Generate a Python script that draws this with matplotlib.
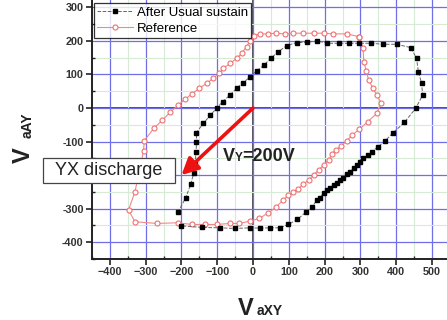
import matplotlib.pyplot as plt
from matplotlib.patches import Rectangle
from matplotlib.ticker import MultipleLocator

# wall voltage loop after usual sustain (V_aXY, V_aAY)
sustain_x = [-210, -188, -174, -166, -162, -159, -158, -158, -139, -120, -101,
             -85, -64, -46, -27, -8, 10, 31, 49, 71, 94, 122, 150, 180, 208,
             239, 267, 296, 329, 364, 402, 441, 457, 462, 471, 474, 455, 423,
             392, 369, 350, 332, 320, 308, 299, 290, 281, 271, 262, 252, 243,
             234, 225, 215, 206, 197, 187, 178, 164, 147, 124, 99, 74, 48, 20,
             -8, -50, -92, -142, -200]
sustain_y = [-311, -267, -227, -195, -165, -130, -101, -73, -46, -22, 0,
             19, 39, 59, 76, 93, 111, 128, 148, 168, 186, 195, 196, 200, 193,
             193, 193, 193, 193, 190, 190, 180, 148, 108, 74, 39, 0, -43,
             -73, -98, -115, -130, -140, -150, -160, -170, -180, -190, -198,
             -208, -215, -223, -230, -237, -245, -253, -267, -275, -296, -311,
             -332, -347, -357, -357, -358, -357, -359, -357, -356, -351]

# reference loop
ref_x = [295, 262, 224, 197, 169, 139, 113, 89, 64, 41, 20, 3, -8, -18, -32,
         -46, -64, -83, -95, -111, -129, -150, -171, -190, -209, -231, -253,
         -278, -304, -306, -330, -348, -330, -269, -211, -171, -134, -101,
         -64, -38, -8, 18, 43, 64, 83, 99, 113, 127, 141, 155, 169, 183, 197,
         211, 220, 232, 246, 262, 276, 297, 320, 346, 358, 346, 335, 323, 316,
         310, 307, 297]
ref_y = [213, 221, 221, 223, 223, 223, 223, 221, 223, 221, 221, 216, 201, 183,
         163, 148, 133, 118, 103, 89, 74, 59, 42, 26, 9, -12, -36, -61, -98,
         -128, -250, -304, -339, -344, -342, -347, -347, -347, -344, -344,
         -337, -329, -312, -296, -275, -260, -250, -240, -227, -215, -200,
         -185, -170, -155, -138, -125, -113, -98, -81, -64, -41, -16, 15, 39,
         59, 84, 110, 138, 178, 213]

xticks = [-400, -300, -200, -100, 0, 100, 200, 300, 400, 500]
yticks = [-400, -300, -200, -100, 0, 100, 200, 300]
# -200 sits behind the discharge label box
ytick_labels = ['-400', '-300', '', '-100', '0', '100', '200', '300']


def main():
    plt.rcParams['font.family'] = ['Liberation Sans', 'DejaVu Sans']

    W, H = 447, 320
    fig = plt.figure(figsize=(W / 100, H / 100), dpi=100)
    ax = fig.add_axes([92 / W, 61 / H, 1 - 92 / W, 1 - 61 / H])
    ax.set_xlim(-450, 542)
    ax.set_ylim(-450, 322)

    # grid: light minor lines every 50, blue major lines every 100
    ax.xaxis.set_minor_locator(MultipleLocator(50))
    ax.yaxis.set_minor_locator(MultipleLocator(50))
    ax.set_xticks(xticks)
    ax.set_yticks(yticks)
    ax.set_yticklabels(ytick_labels)
    ax.grid(which='minor', color='#d6ead6', lw=0.8, zorder=0)
    ax.grid(which='major', color='#6f6fe8', lw=0.9, zorder=0.5)
    ax.axvline(0, color='#333333', lw=1.2, zorder=1)
    ax.axhline(0, color='#2a2a80', lw=1.2, zorder=1)

    ax.plot(ref_x, ref_y, '-o', color='#f08a8a', lw=0.8, ms=3.6,
            mfc='white', mec='#f07070', mew=0.8, label='Reference', zorder=3)
    ax.plot(sustain_x, sustain_y, '--s', color='#666666', lw=0.7, ms=3.1,
            mfc='black', mec='black', label='After Usual sustain', zorder=4)

    # handles come out reversed so black series is listed first
    h, l = ax.get_legend_handles_labels()
    leg = ax.legend(h[::-1], l[::-1], loc='upper left', fontsize=9.5,
                    frameon=True, fancybox=False, borderpad=0.25,
                    labelspacing=0.3, handlelength=2.7, handletextpad=0.3,
                    borderaxespad=0.15, bbox_to_anchor=(0.0, 0.995))
    leg.get_frame().set_edgecolor('black')
    leg.get_frame().set_linewidth(0.9)

    for side in ('top', 'right'):
        ax.spines[side].set_visible(False)
    for side in ('left', 'bottom'):
        ax.spines[side].set_linewidth(1.4)
        ax.spines[side].set_color('#222222')
    ax.tick_params(which='major', direction='out', length=4, width=1.2,
                   labelsize=7.8, colors='#222222', pad=2)
    ax.tick_params(which='minor', direction='in', length=2.5, width=1,
                   color='#222222')
    for lab in ax.get_xticklabels() + ax.get_yticklabels():
        lab.set_fontweight('bold')
        lab.set_color('#333333')

    # applied Y voltage arrow
    ax.annotate('', xy=(-200, -200), xytext=(0, 0),
                arrowprops=dict(arrowstyle='-|>,head_length=1.0,head_width=0.5',
                                color='#ee1111', lw=2.6, shrinkA=0, shrinkB=0),
                zorder=6)
    ax.text(-84, -158, 'V', fontsize=13, fontweight='bold', color='#222222',
            zorder=7)
    ax.text(-50, -158, 'Y', fontsize=8.5, fontweight='bold', color='#222222',
            zorder=7)
    ax.text(-31, -158, '=200V', fontsize=13, fontweight='bold',
            color='#222222', zorder=7)

    # discharge label box, partly outside the axes
    box = Rectangle((43 / W, 1 - 183 / H), 132 / W, 25 / H,
                    transform=fig.transFigure, fc='white', ec='#444444',
                    lw=0.9, zorder=10)
    fig.add_artist(box)
    fig.text(109 / W, 1 - 170.5 / H, 'YX discharge', fontsize=13,
             ha='center', va='center', color='#222222', zorder=11)

    # axis titles: big V followed by smaller suffix on the same baseline
    fig.text(238 / W, 1 - 315 / H, 'V', fontsize=17, fontweight='bold',
             color='#222222', va='baseline')
    fig.text(257 / W, 1 - 315 / H, 'aXY', fontsize=10, fontweight='bold',
             color='#222222', va='baseline')
    fig.text(35 / W, 1 - 163 / H, 'V', fontsize=17, fontweight='bold',
             color='#222222', rotation=90, ha='right', va='bottom')
    fig.text(35 / W, 1 - 138 / H, 'aAY', fontsize=10, fontweight='bold',
             color='#222222', rotation=90, ha='right', va='bottom')

    fig.savefig('out.png', dpi=100)


if __name__ == '__main__':
    main()
